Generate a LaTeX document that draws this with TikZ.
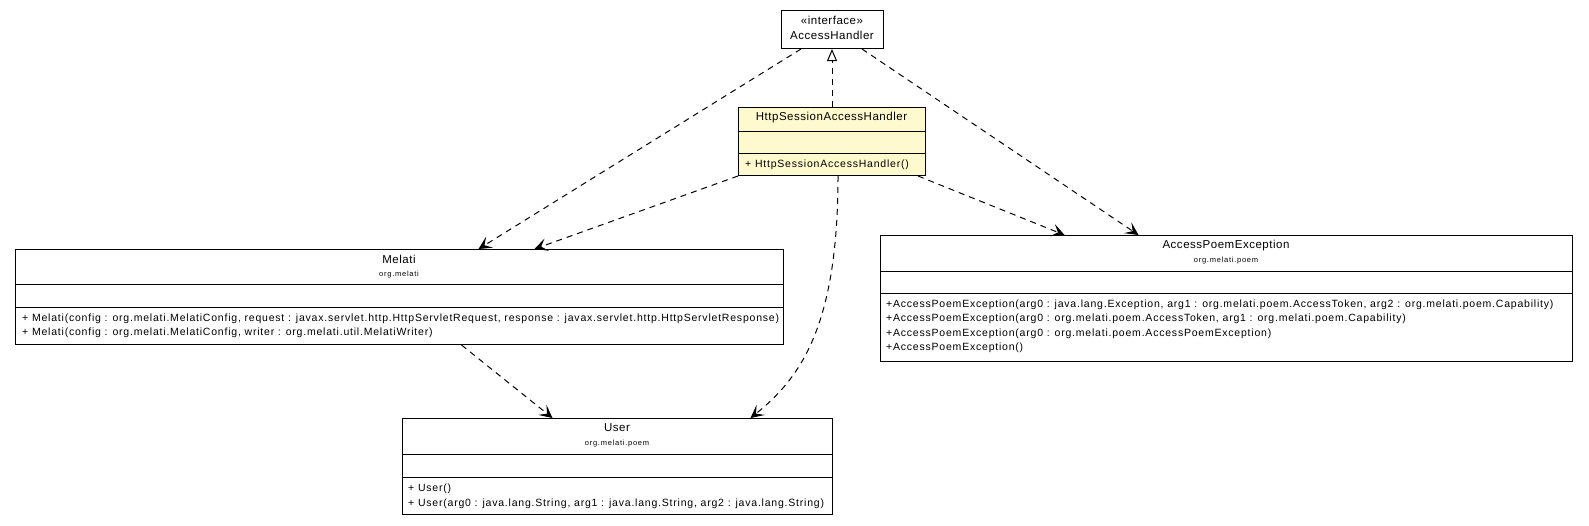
\documentclass[tikz,border=0pt]{standalone}
\usepackage{fontspec}
\setmainfont{Liberation Sans}
\newfontfamily\namefont[LetterSpace=4.5]{Liberation Sans}
\newfontfamily\memberfont[LetterSpace=7.5]{Liberation Sans}
\newfontfamily\pkgfont[LetterSpace=10]{Liberation Sans}
\usetikzlibrary{arrows.meta}
\definecolor{NoteYellow}{RGB}{255,250,205}
\tikzset{
  classbox/.style={draw=black,line width=1pt,anchor=north west,inner sep=0pt},
  sepline/.style={line width=1pt},
  clsname/.style={font=\namefont\fontsize{11.5}{13}\selectfont,inner sep=0pt},
  pkgname/.style={font=\pkgfont\fontsize{7.5}{9}\selectfont,inner sep=0pt},
  member/.style={font=\memberfont\fontsize{10.5}{12}\selectfont,anchor=west,inner sep=0pt},
  dep/.style={-{Stealth[length=13pt,width=13pt,inset=6pt]},dash pattern=on 6pt off 5pt,line width=1pt},
  realize/.style={-{Triangle[open,length=12pt,width=10pt,fill=white]},dash pattern=on 6pt off 5pt,line width=1pt}
}

\begin{document}
\begin{tikzpicture}[x=1pt,y=-1pt]
  \useasboundingbox (0,0) rectangle (1589,525);
  % interface
  \node[classbox,minimum width=102pt,minimum height=38pt] (ah) at (781,10) {};
  \node[clsname] (ahstereo) at (832,20) {«interface»};
  \node[clsname] (ahname) at (832,35) {AccessHandler};
  % the class itself
  \node[classbox,fill=NoteYellow,minimum width=187pt,minimum height=68pt] (hs) at (738,107) {};
  \draw[sepline] (738,131) -- (925,131);
  \draw[sepline] (738,153) -- (925,153);
  \node[clsname] (hsname) at (831.5,118) {HttpSessionAccessHandler};
  \node[member] (hsctor) at (745,165) {+ HttpSessionAccessHandler()};
  % Melati
  \node[classbox,minimum width=768pt,minimum height=95pt] (melati) at (15,249) {};
  \draw[sepline] (15,284) -- (783,284);
  \draw[sepline] (15,307) -- (783,307);
  \node[clsname] (melatiname) at (399,259) {Melati};
  \node[pkgname] (melatipkg) at (399,275) {org.melati};
  \node[member] (melatic1) at (22,319) {+ Melati(config : org.melati.MelatiConfig, request : javax.servlet.http.HttpServletRequest, response : javax.servlet.http.HttpServletResponse)};
  \node[member] (melatic2) at (22,333) {+ Melati(config : org.melati.MelatiConfig, writer : org.melati.util.MelatiWriter)};
  % AccessPoemException
  \node[classbox,minimum width=692pt,minimum height=126pt] (ape) at (880,235) {};
  \draw[sepline] (880,271) -- (1572,271);
  \draw[sepline] (880,293) -- (1572,293);
  \node[clsname] (apename) at (1226,246) {AccessPoemException};
  \node[pkgname] (apepkg) at (1226,261) {org.melati.poem};
  \node[member] (apec1) at (886,304.5) {+AccessPoemException(arg0 : java.lang.Exception, arg1 : org.melati.poem.AccessToken, arg2 : org.melati.poem.Capability)};
  \node[member] (apec2) at (886,319) {+AccessPoemException(arg0 : org.melati.poem.AccessToken, arg1 : org.melati.poem.Capability)};
  \node[member] (apec3) at (886,333.5) {+AccessPoemException(arg0 : org.melati.poem.AccessPoemException)};
  \node[member] (apec4) at (886,348) {+AccessPoemException()};
  % User
  \node[classbox,minimum width=430pt,minimum height=96pt] (user) at (402,418) {};
  \draw[sepline] (402,454) -- (832,454);
  \draw[sepline] (402,477) -- (832,477);
  \node[clsname] (username) at (617,428) {User};
  \node[pkgname] (userpkg) at (617,444) {org.melati.poem};
  \node[member] (userc1) at (408,488.5) {+ User()};
  \node[member] (userc2) at (408,503.5) {+ User(arg0 : java.lang.String, arg1 : java.lang.String, arg2 : java.lang.String)};
  % connectors
  \draw[realize] (hs.north) -- (hs.north |- ah.south);
  \draw[dep] ([xshift=20pt]ah.south west) -- ([xshift=79pt]melati.north);
  \draw[dep] (hs.south west) -- ([xshift=135pt]melati.north);
  \draw[dep] ([xshift=6pt]hs.south) .. controls +(0,150) and +(50,-40) .. ([xshift=133pt]user.north);
  \draw[dep] ([xshift=-8pt]hs.south east) -- ([xshift=-162pt]ape.north);
  \draw[dep] ([xshift=-22pt]ah.south east) -- ([xshift=-88pt]ape.north);
  \draw[dep] ([xshift=62pt]melati.south) -- ([xshift=-65pt]user.north);
\end{tikzpicture}
\end{document}
